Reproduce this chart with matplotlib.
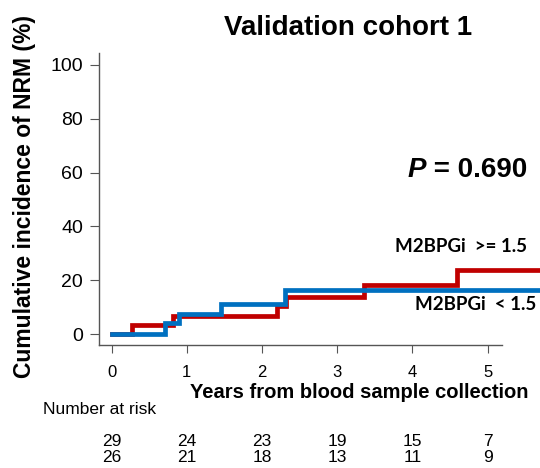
import matplotlib
matplotlib.use("Agg")
import matplotlib.pyplot as plt
import matplotlib.transforms as mtransforms

plt.rcParams['font.family'] = ['Liberation Sans', 'DejaVu Sans']

# cumulative incidence of NRM (%) by group, step changes at event times (years)
high_times = [0, 0.27, 0.81, 2.20, 2.32, 3.36, 4.59, 5.68]
high_cif = [0, 3.2, 6.8, 10.4, 13.9, 18.2, 23.9, 23.9]
low_times = [0, 0.71, 0.90, 1.46, 2.31, 5.68]
low_cif = [0, 4.0, 7.6, 11.3, 16.5, 16.5]

year_ticks = [0, 1, 2, 3, 4, 5]
risk_high = [29, 24, 23, 19, 15, 7]
risk_low = [26, 21, 18, 13, 11, 9]
p_value = "0.690"

red = '#C00000'
blue = '#0070C0'
axis_grey = '#555555'

fig = plt.figure(figsize=(5.4, 4.68), dpi=100)
ax = fig.add_axes([0.1833, 0.2628, 0.7457, 0.624])

ax.step(high_times, high_cif, where='post', color=red, lw=3.4,
        clip_on=False, solid_joinstyle='miter')
ax.step(low_times, low_cif, where='post', color=blue, lw=3.4,
        clip_on=False, solid_joinstyle='miter')

ax.set_xlim(-0.169, 5.187)
ax.set_ylim(-4.09, 104.46)

for side in ('top', 'right'):
    ax.spines[side].set_visible(False)
for side in ('left', 'bottom'):
    ax.spines[side].set_color(axis_grey)
    ax.spines[side].set_linewidth(1.0)

ax.set_yticks([0, 20, 40, 60, 80, 100])
ax.set_xticks(year_ticks)
ax.tick_params(axis='y', length=6.5, width=0.8, color=axis_grey,
               labelsize=14, pad=5)
ax.tick_params(axis='x', length=5.5, width=0.8, color=axis_grey,
               labelsize=12, pad=9)

fig.text(348 / 540, 1 - 28 / 468, 'Validation cohort 1', fontsize=20,
         fontweight='bold', ha='center', va='center')
fig.text(25 / 540, 1 - 196 / 468, 'Cumulative incidence of NRM (%)',
         fontsize=16.5, fontweight='bold', rotation=90,
         ha='center', va='center')
fig.text(359 / 540, 1 - 393 / 468, 'Years from blood sample collection',
         fontsize=14.5, fontweight='bold', ha='center', va='center')

# P value, italic P followed by the rest in bold
p_txt = fig.text(408 / 540, 1 - 177 / 468, 'P', fontsize=20,
                 fontweight='bold', fontstyle='italic', ha='left',
                 va='baseline')
ax.annotate(' = ' + p_value, xy=(1, 0), xycoords=p_txt, fontsize=20,
            fontweight='bold', ha='left', va='bottom',
            annotation_clip=False)

fig.text(527 / 540, 1 - 247 / 468, 'M2BPGi  >= 1.5', fontsize=13.5,
         fontweight='bold', family=['Lato', 'DejaVu Sans'],
         ha='right', va='center')
fig.text(536 / 540, 1 - 304 / 468, 'M2BPGi  < 1.5', fontsize=13.5,
         fontweight='bold', family=['Lato', 'DejaVu Sans'],
         ha='right', va='center')

# number-at-risk table under the axis
fig.text(43 / 540, 1 - 410 / 468, 'Number at risk', fontsize=12.5,
         ha='left', va='center')
trans = mtransforms.blended_transform_factory(ax.transData, fig.transFigure)
for x, a, b in zip(year_ticks, risk_high, risk_low):
    ax.text(x, 1 - 441 / 468, str(a), transform=trans, fontsize=12.5,
            ha='center', va='center', clip_on=False)
    ax.text(x, 1 - 457 / 468, str(b), transform=trans, fontsize=12.5,
            ha='center', va='center', clip_on=False)

fig.savefig('out.png', dpi=100)
